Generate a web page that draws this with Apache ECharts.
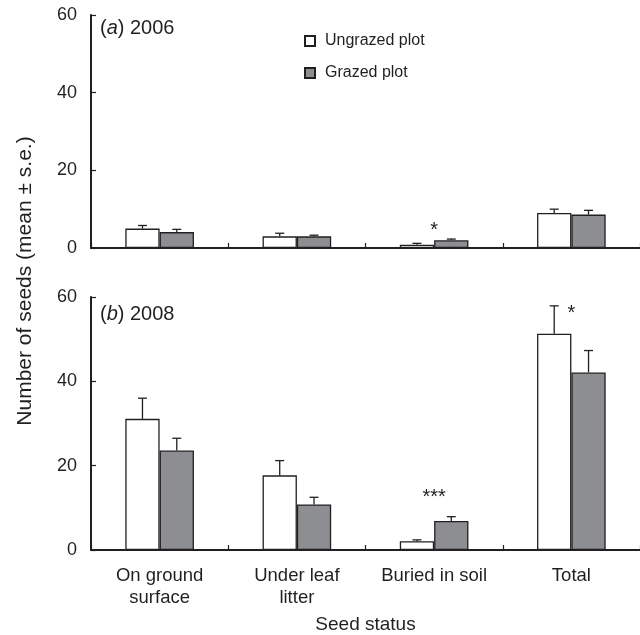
<!DOCTYPE html>
<html>
<head>
<meta charset="utf-8">
<script src="https://cdn.jsdelivr.net/npm/echarts@6/dist/echarts.min.js"></script>
<style>html,body{margin:0;padding:0;background:#fff}#c{width:640px;height:635px}</style>
</head>
<body>
<div id="c"></div>
<script>
const categories = ['On ground\nsurface', 'Under leaf\nlitter', 'Buried in soil', 'Total'];
const seriesNames = ['Ungrazed plot', 'Grazed plot'];
// 2006 panel
const ungrazed2006 = [5.0, 3.0, 0.85, 9.0];
const ungrazed2006SE = [0.8, 0.8, 0.35, 1.0];
const grazed2006 = [4.1, 3.0, 2.0, 8.6];
const grazed2006SE = [0.7, 0.3, 0.3, 1.1];
// 2008 panel
const ungrazed2008 = [31.1, 17.7, 2.1, 51.3];
const ungrazed2008SE = [4.9, 3.5, 0.3, 6.6];
const grazed2008 = [23.6, 10.8, 6.9, 42.1];
const grazed2008SE = [2.9, 1.7, 1.0, 5.2];
// significance marks: [categoryIndex, value position, text]
const stars2006 = [[2, 4.5, '*']];
const stars2008 = [[2, 12.4, '***'], [3, 56.0, '*']];
const yTicks = [0, 20, 40, 60];

const FONT = "'Liberation Sans', Arial, Helvetica, sans-serif";
const INK = '#231f20';
const GREY = '#8d8e92';

const chart = echarts.init(document.getElementById('c'), null, {renderer: 'canvas'});

function errData(means, ses) {
  return means.map((m, i) => [i, m, m + ses[i]]);
}
function errSeries(means, ses, side, idx) {
  return {
    type: 'custom', xAxisIndex: idx, yAxisIndex: idx, z: 5, silent: true,
    data: errData(means, ses),
    renderItem: function (params, api) {
      const base = api.coord([api.value(0), api.value(1)]);
      const top = api.coord([api.value(0), api.value(2)]);
      const band = api.size([1, 0])[0];
      const x = base[0] + side * band * 0.125;
      const cap = 4.5;
      return {
        type: 'group',
        children: [
          {type: 'line', shape: {x1: x, y1: base[1], x2: x, y2: top[1]}, style: {stroke: INK, lineWidth: 1.3}},
          {type: 'line', shape: {x1: x - cap, y1: top[1], x2: x + cap, y2: top[1]}, style: {stroke: INK, lineWidth: 1.3}}
        ]
      };
    }
  };
}
function starSeries(stars, idx) {
  return {
    type: 'custom', xAxisIndex: idx, yAxisIndex: idx, z: 6, silent: true,
    data: stars.map(s => [s[0], s[1]]),
    renderItem: function (params, api) {
      const p = api.coord([api.value(0), api.value(1)]);
      return {
        type: 'text', x: p[0], y: p[1],
        style: {text: stars[params.dataIndex][2], font: '20px ' + FONT, fill: INK,
          align: 'center', verticalAlign: 'middle', textAlign: 'center', textVerticalAlign: 'middle'}
      };
    }
  };
}
function barSeries(name, data, fill, idx) {
  return {
    name: name, type: 'bar', xAxisIndex: idx, yAxisIndex: idx,
    data: data, barGap: '0%', barCategoryGap: '50%',
    itemStyle: {color: fill, borderColor: INK, borderWidth: 1.3},
    emphasis: {disabled: true}
  };
}
const yAxisBase = {
  type: 'value', min: yTicks[0], max: yTicks[yTicks.length - 1], interval: 20,
  axisLine: {show: true, lineStyle: {color: INK, width: 2}},
  axisTick: {show: true, inside: true, length: 5, lineStyle: {color: INK, width: 1.2}},
  axisLabel: {color: INK, fontSize: 18, fontFamily: FONT, margin: 14},
  splitLine: {show: false}
};
const xAxisBase = {
  type: 'category', data: categories, boundaryGap: true,
  axisLine: {show: true, lineStyle: {color: INK, width: 2}},
  axisTick: {show: true, inside: true, length: 5, alignWithLabel: false, lineStyle: {color: INK, width: 1.2}},
  splitLine: {show: false}
};

chart.setOption({
  animation: false,
  backgroundColor: '#fff',
  textStyle: {fontFamily: FONT},
  title: [
    {text: '({i|a}) 2006', left: 100, top: 18, padding: 0,
      textStyle: {fontSize: 20, fontWeight: 'normal', color: INK, fontFamily: FONT,
        rich: {i: {fontStyle: 'italic', fontSize: 20, color: INK, fontFamily: FONT}}}},
    {text: '({i|b}) 2008', left: 100, top: 304, padding: 0,
      textStyle: {fontSize: 20, fontWeight: 'normal', color: INK, fontFamily: FONT,
        rich: {i: {fontStyle: 'italic', fontSize: 20, color: INK, fontFamily: FONT}}}}
  ],
  legend: {
    data: seriesNames, orient: 'vertical', left: 299, top: 28,
    icon: 'rect', itemWidth: 10, itemHeight: 10, itemGap: 16,
    textStyle: {fontSize: 16, color: INK, fontFamily: FONT, padding: [0, 0, 0, 5]},
    selectedMode: false
  },
  grid: [
    {left: 91, top: 15, width: 549, height: 233, outerBoundsMode: 'none', containLabel: false},
    {left: 91, top: 297, width: 549, height: 253, outerBoundsMode: 'none', containLabel: false}
  ],
  xAxis: [
    Object.assign({}, xAxisBase, {gridIndex: 0, axisLabel: {show: false}}),
    Object.assign({}, xAxisBase, {gridIndex: 1,
      axisLabel: {show: true, color: INK, fontSize: 18.5, fontFamily: FONT, margin: 15, lineHeight: 22, interval: 0},
      name: 'Seed status', nameLocation: 'middle', nameGap: 65,
      nameTextStyle: {fontSize: 19, color: INK, fontFamily: FONT}})
  ],
  yAxis: [
    Object.assign({}, yAxisBase, {gridIndex: 0}),
    Object.assign({}, yAxisBase, {gridIndex: 1})
  ],
  graphic: [{
    type: 'text', x: 25, y: 281, rotation: Math.PI / 2,
    style: {text: 'Number of seeds (mean ± s.e.)', font: '21px ' + FONT, fill: INK,
      align: 'center', verticalAlign: 'middle', textAlign: 'center', textVerticalAlign: 'middle'}
  }],
  series: [
    barSeries(seriesNames[0], ungrazed2006, '#ffffff', 0),
    barSeries(seriesNames[1], grazed2006, GREY, 0),
    barSeries(seriesNames[0], ungrazed2008, '#ffffff', 1),
    barSeries(seriesNames[1], grazed2008, GREY, 1),
    errSeries(ungrazed2006, ungrazed2006SE, -1, 0),
    errSeries(grazed2006, grazed2006SE, 1, 0),
    errSeries(ungrazed2008, ungrazed2008SE, -1, 1),
    errSeries(grazed2008, grazed2008SE, 1, 1),
    starSeries(stars2006, 0),
    starSeries(stars2008, 1)
  ]
});
</script>
</body>
</html>
